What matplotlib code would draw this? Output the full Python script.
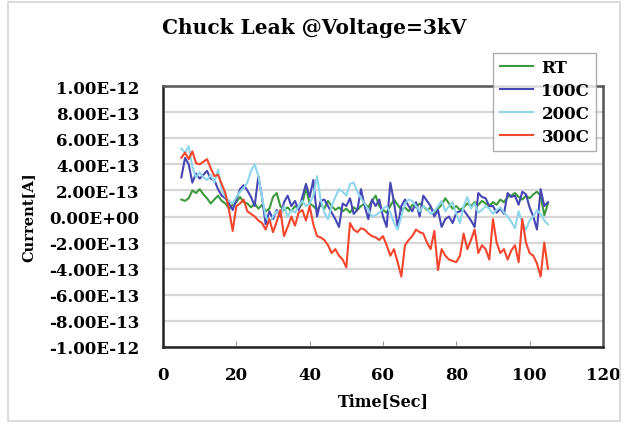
import matplotlib
matplotlib.use('Agg')
import matplotlib.pyplot as plt
from matplotlib.patches import Rectangle
import numpy as np

# time axis (sec), one sample per second
time_sec = list(range(5, 106))

# leak current in units of 1e-13 A
rt = [1.3, 1.2, 1.4, 2.0, 1.8, 2.1, 1.7, 1.4, 1.0, 1.3, 1.6, 1.2, 1.0, 0.6, 0.9, 1.1, 1.5, 1.1, 1.0, 0.7,
      1.0, 0.6, 0.9, 0.4, 0.6, 1.5, 1.8, 0.8, 0.5, 0.7, 0.4, 0.8, 0.6, 1.0, 2.2, 1.0, 0.8, 0.5, 0.9, 0.6,
      1.2, 0.8, 0.5, 0.7, 0.4, 0.6, 0.3, 0.7, 0.5, 0.8, 1.0, 0.7, 1.2, 1.6, 0.8, 0.5, 0.3, 0.8, 1.3, 0.9,
      0.5, 0.7, 0.4, 0.9, 0.7, 1.0, 0.8, 0.5, 0.7, 0.3, 0.6, 0.9, 1.4, 1.0, 0.6, 0.8, 0.5, 0.7, 1.0, 0.8,
      1.1, 0.9, 1.2, 1.0, 0.8, 1.1, 0.9, 1.3, 1.1, 1.5, 1.6, 1.8, 1.5, 1.3, 1.6, 1.4, 1.7, 1.9, 1.6, 0.1,
      1.0]
c100 = [3.0, 4.5, 4.0, 2.6, 3.3, 2.9, 3.2, 3.5, 2.9, 2.8, 2.1, 1.6, 1.4, 1.0, 0.5, 1.3, 2.1, 2.4, 2.0, 1.5,
        0.8, 3.1, 1.5, -0.6, 0.4, -0.2, 0.5, 0.0, 1.1, 1.6, 0.8, 1.2, 0.5, 1.5, 2.5, 1.5, 2.8, 0.0, 1.2, 1.3,
        0.8, 0.3, -0.2, -0.8, 1.0, 0.8, 1.4, 0.2, 0.5, 2.1, 0.8, -0.2, 1.3, 0.8, 1.3, 0.0, -0.8, 2.6, 1.1, -0.8,
        0.8, 1.3, 0.8, 0.4, 1.1, 0.0, 1.6, 1.2, 0.8, 0.0, 0.5, -0.8, -0.2, 0.0, -0.5, 0.3, 0.4, 0.5, 0.1, -0.3,
        -0.8, 1.8, 1.5, 1.4, 0.8, 0.8, 0.3, 0.6, 0.2, 1.8, 1.5, 1.6, 0.9, 1.9, 1.7, 0.7, 0.0, -1.0, 2.1, 0.8,
        1.1]
c200 = [5.2, 4.9, 5.4, 3.8, 3.0, 3.4, 3.0, 2.8, 3.2, 2.6, 3.6, 2.1, 1.5, 1.2, 1.0, 1.5, 1.9, 2.2, 2.6, 3.5,
        4.0, 3.1, 1.5, 0.0, -0.5, 0.0, 0.4, 0.2, 0.8, 0.0, 0.5, 0.3, 0.8, 1.2, 0.8, 1.0, 1.6, 3.1, 1.3, 0.3,
        -0.2, 0.8, 1.5, 2.1, 1.9, 1.6, 2.5, 2.6, 1.9, 1.4, 1.0, 0.5, 0.0, 0.1, 0.3, 0.6, 0.8, 0.3, -0.5, -1.0,
        0.0, 1.0, 1.3, 1.2, 0.8, 0.4, 0.8, 0.6, 0.2, 0.4, 0.8, 1.2, 0.4, 0.8, 1.1, 0.2, -0.5, 0.8, 1.5, 0.6,
        1.0, 0.3, 0.5, 0.8, 0.6, 0.2, 0.5, 0.7, 0.3, 0.0, -0.4, -0.9, 0.4, -0.5, -1.0, -0.3, 0.0, 0.5, 0.2, -0.3,
        -0.6]
c300 = [4.5, 4.9, 4.4, 5.0, 4.1, 4.0, 4.2, 4.4, 3.7, 3.1, 3.2, 2.5, 1.8, 0.5, -1.1, 0.8, 1.0, 1.3, 0.4, 0.2,
        0.0, -0.3, -0.5, -1.0, -0.2, -1.2, -0.4, 0.5, -1.5, -0.8, 0.0, -0.7, 0.3, 0.5, -0.3, 0.8, -0.6, -1.5, -1.6, -1.8,
        -2.2, -2.8, -2.5, -3.0, -3.3, -3.9, -0.5, -1.0, -1.2, -0.9, -1.0, -1.3, -1.5, -1.6, -1.8, -1.5, -2.2, -3.0, -2.5, -3.5,
        -4.6, -2.2, -1.8, -1.5, -1.0, -1.2, -1.3, -2.0, -2.5, -1.1, -4.1, -2.5, -3.0, -3.3, -3.4, -3.5, -3.0, -1.3, -2.5, -1.8,
        -1.0, -2.8, -2.2, -2.5, -3.3, -0.2, -2.0, -2.8, -2.5, -3.3, -2.6, -2.2, -3.5, -0.2, -2.0, -2.8, -3.0, -3.6, -4.6, -2.0,
        -4.0]

series_names = ['RT', '100C', '200C', '300C']
series_colors = ['#3c9a3c', '#4646b4', '#8fd6ec', '#f4452d']

y_ticks = [1e-12, 8e-13, 6e-13, 4e-13, 2e-13, 0, -2e-13, -4e-13, -6e-13, -8e-13, -1e-12]
y_tick_labels = ['1.00E-12', '8.00E-13', '6.00E-13', '4.00E-13', '2.00E-13', '0.00E+00',
                 '-2.00E-13', '-4.00E-13', '-6.00E-13', '-8.00E-13', '-1.00E-12']
x_ticks = [0, 20, 40, 60, 80, 100, 120]

font = {'family': 'DejaVu Serif', 'weight': 'bold'}

fig = plt.figure(figsize=(6.28, 4.31), dpi=100)
fig.patches.append(Rectangle((0.013, 0.02), 0.975, 0.972, transform=fig.transFigure,
                             fill=False, edgecolor='#d4d4d4', lw=1.2))
ax = fig.add_axes([0.2596, 0.1926, 0.7005, 0.6054])

for vals, name, col in zip([rt, c100, c200, c300], series_names, series_colors):
    ax.plot(time_sec, np.array(vals) * 1e-13, color=col, lw=1.5, label=name)

ax.set_xlim(0, 120)
ax.set_ylim(-1e-12, 1e-12)
ax.set_yticks(y_ticks)
ax.set_yticklabels(y_tick_labels, fontdict=font, fontsize=12)
ax.set_xticks(x_ticks)
ax.set_xticklabels([str(v) for v in x_ticks], fontdict=font, fontsize=12)
ax.tick_params(axis='y', length=0, pad=17)
ax.tick_params(axis='x', direction='in', length=4, color='#999999', pad=14)
ax.grid(axis='y', color='#d6d6d6', lw=1.6)
ax.set_axisbelow(True)
for side in ['left', 'bottom']:
    ax.spines[side].set_color('#222222')
    ax.spines[side].set_linewidth(1.8)
for side in ['top', 'right']:
    ax.spines[side].set_color('#555555')
    ax.spines[side].set_linewidth(1.8)

fig.text(0.5, 0.922, 'Chuck Leak @Voltage=3kV', fontdict=font, fontsize=14.5, ha='center', va='baseline')
ax.set_xlabel('Time[Sec]', fontdict=font, fontsize=11.5, labelpad=6)
ax.set_ylabel('Current[A]', fontdict=font, fontsize=10.5, labelpad=10)

leg = ax.legend(loc='upper left', bbox_to_anchor=(0.772, 0.895), bbox_transform=fig.transFigure,
                prop={'family': 'DejaVu Serif', 'weight': 'bold', 'size': 12},
                frameon=True, fancybox=False, edgecolor='#999999', handlelength=2.0,
                labelspacing=0.35, borderpad=0.4, handletextpad=0.5)
leg.get_frame().set_linewidth(1.0)

plt.savefig('out.png', dpi=100)
